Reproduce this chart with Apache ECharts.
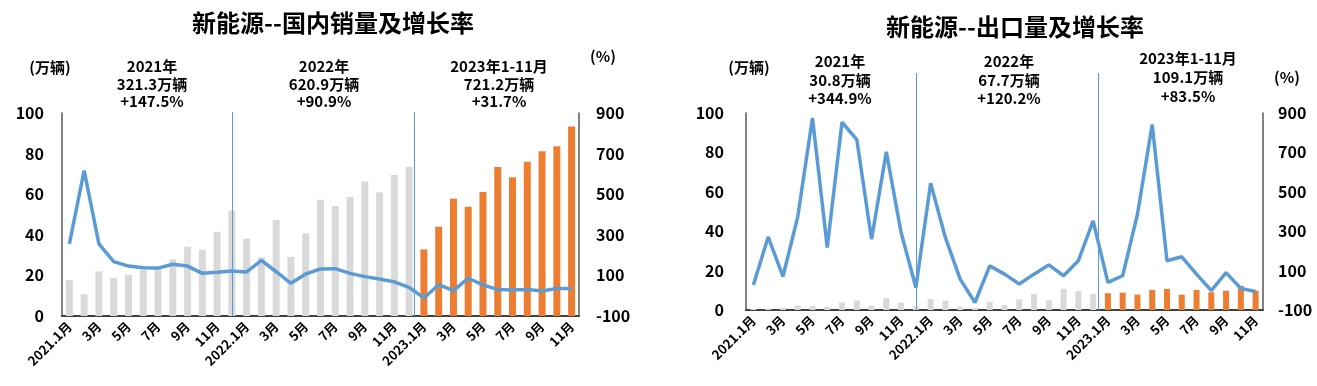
<!DOCTYPE html>
<html><head><meta charset="utf-8">
<script src="https://cdn.jsdelivr.net/npm/echarts/dist/echarts.min.js"></script>
<style>html,body{margin:0;padding:0;background:#fff}#c{width:1317px;height:386px}</style>
</head><body><div id="c"></div>
<script>
// ---- categories (unique keys) ----
const categories = [
 '2021.1月','2021.2月','2021.3月','2021.4月','2021.5月','2021.6月','2021.7月','2021.8月','2021.9月','2021.10月','2021.11月','2021.12月',
 '2022.1月','2022.2月','2022.3月','2022.4月','2022.5月','2022.6月','2022.7月','2022.8月','2022.9月','2022.10月','2022.11月','2022.12月',
 '2023.1月','2023.2月','2023.3月','2023.4月','2023.5月','2023.6月','2023.7月','2023.8月','2023.9月','2023.10月','2023.11月'
];
// ---- domestic sales (万辆) ----
const domSales2021 = [17.7,10.7,22.0,18.7,20.3,22.8,23.2,27.9,34.1,32.7,41.5,51.9];
const domSales2022 = [38.1,28.9,47.3,29.2,40.7,57.3,54.2,58.6,66.2,60.9,69.5,73.5];
const domSales2023 = [32.8,44.0,57.8,53.8,61.1,73.4,68.3,76.0,81.1,83.6,93.4];
// ---- domestic growth (%) ----
const domGrowth = [255,616,255,168,146,138,136,155,146,110,115,122,
                   117,174,118,61,107,132,133,110,94,82,68,41,
                   -11,54,25,86,53,30,28,30,23,36,35];
// ---- export volume (万辆) ----
const expSales2021 = [0.5,0.8,1.2,2.3,2.0,1.6,3.9,4.8,2.2,6.0,3.8,1.8];
const expSales2022 = [5.6,4.7,1.7,1.0,4.2,2.5,5.4,8.1,4.9,10.8,9.6,8.1];
const expSales2023 = [8.5,8.8,7.8,10.2,10.7,7.8,10.2,9.0,9.8,12.2,9.8];
// ---- export growth (%) ----
const expGrowth = [27,271,70,372,875,217,853,765,259,703,293,14,
                   543,267,57,-62,124,82,32,82,129,74,150,352,
                   40,74,386,841,150,170,82,-2,90,9,-6];
// ---- separator positions (category index units) ----
const separators = [11, 23.35];
// ---- texts ----
const titles = ['新能源--国内销量及增长率','新能源--出口量及增长率'];
const domNotes = ['2021年\n321.3万辆\n+147.5%','2022年\n620.9万辆\n+90.9%','2023年1-11月\n721.2万辆\n+31.7%'];
const expNotes = ['2021年\n30.8万辆\n+344.9%','2022年\n67.7万辆\n+120.2%','2023年1-11月\n109.1万辆\n+83.5%'];
const unitLeft = '(万辆)', unitRight = '(%)';

const GRAY = '#D9D9D9', ORANGE = '#ED7D31', BLUE = '#5B9BD5';
const FONT = '"Noto Sans CJK SC","Noto Sans",sans-serif';
const domSales = domSales2021.concat(domSales2022, domSales2023);
const expSales = expSales2021.concat(expSales2022, expSales2023);
const nHist = domSales2021.length + domSales2022.length;

function barColor(p){ return p.dataIndex >= nHist ? ORANGE : GRAY; }
function xLabel(v){ return /\.1月$/.test(v) ? v : v.split('.')[1]; }

const axisLabelStyle = {color:'#000', fontWeight:'bold', fontSize:16, fontFamily:FONT};
function catAxis(gi){
  return {type:'category', gridIndex:gi, data:categories,
    axisLine:{lineStyle:{color:'#404040', width:2}}, axisTick:{show:false},
    axisLabel:{interval:1, rotate:45, margin:8, color:'#000', fontWeight:'bold', fontSize:13, fontFamily:FONT, formatter:xLabel}};
}
function valAxis(gi, pos, min, max, interval, margin){
  return {type:'value', gridIndex:gi, position:pos, min:min, max:max, interval:interval,
    splitLine:{show:false}, axisTick:{show:false},
    axisLine:{show:true, lineStyle:{color:'#595959', width:1.5}},
    axisLabel:Object.assign({margin:margin}, axisLabelStyle)};
}
function hiddenVal(gi, min, max){
  return {type:'value', gridIndex:gi, min:min, max:max, show:false, splitLine:{show:false}};
}
function sepSeries(xi, yi){
  return {type:'scatter', xAxisIndex:xi, yAxisIndex:yi, data:[], silent:true,
    markLine:{symbol:'none', silent:true, label:{show:false}, animation:false,
      lineStyle:{color:BLUE, width:1, type:'solid'},
      data: separators.map(s => ({xAxis:s}))}};
}
function txt(x, y, text, size, lh){
  return {type:'text', x:x, y:y, style:{text:text, fill:'#000', font:'bold '+size+'px '+FONT,
    textAlign:'center', textVerticalAlign:'middle', lineHeight:lh}};
}

const chart = echarts.init(document.getElementById('c'), null, {renderer:'canvas'});
chart.setOption({
  animation:false,
  backgroundColor:'#fff',
  grid:[
    {left:62, right:738, top:113, bottom:70},
    {left:746, right:54, top:113, bottom:76},
    {left:62, right:738, top:112, bottom:70},
    {left:746, right:54, top:73, bottom:76}
  ],
  xAxis:[catAxis(0), catAxis(1), hiddenVal(2,-0.5,34.5), hiddenVal(3,-0.5,34.5)],
  yAxis:[
    valAxis(0,'left',0,100,20,18), valAxis(0,'right',-100,900,200,17),
    valAxis(1,'left',0,100,20,22), valAxis(1,'right',-100,900,200,15),
    hiddenVal(2,0,1), hiddenVal(3,0,1)
  ],
  series:[
    {type:'bar', xAxisIndex:0, yAxisIndex:0, data:domSales, barWidth:7, itemStyle:{color:barColor}},
    {type:'line', xAxisIndex:0, yAxisIndex:1, data:domGrowth, showSymbol:false, symbol:'none',
      lineStyle:{color:BLUE, width:3.5}, z:5},
    {type:'bar', xAxisIndex:1, yAxisIndex:2, data:expSales, barWidth:6, itemStyle:{color:barColor}},
    {type:'line', xAxisIndex:1, yAxisIndex:3, data:expGrowth, showSymbol:false, symbol:'none',
      lineStyle:{color:BLUE, width:3.5}, z:5},
    sepSeries(2,4), sepSeries(3,5)
  ],
  graphic:[
    txt(333, 23, titles[0], 24, 28),
    txt(1015, 27, titles[1], 24, 28),
    txt(50, 67, unitLeft, 15, 18),
    txt(152, 84, domNotes[0], 15, 17.5),
    txt(324, 84, domNotes[1], 15, 17.5),
    txt(499, 84, domNotes[2], 15, 17.5),
    txt(603, 56, unitRight, 15, 18),
    txt(749, 67, unitLeft, 15, 18),
    txt(840, 80, expNotes[0], 15, 18.5),
    txt(1009, 80, expNotes[1], 15, 18.5),
    txt(1188, 77, expNotes[2], 15, 19),
    txt(1287, 77, unitRight, 15, 18)
  ]
});
</script>
</body></html>
